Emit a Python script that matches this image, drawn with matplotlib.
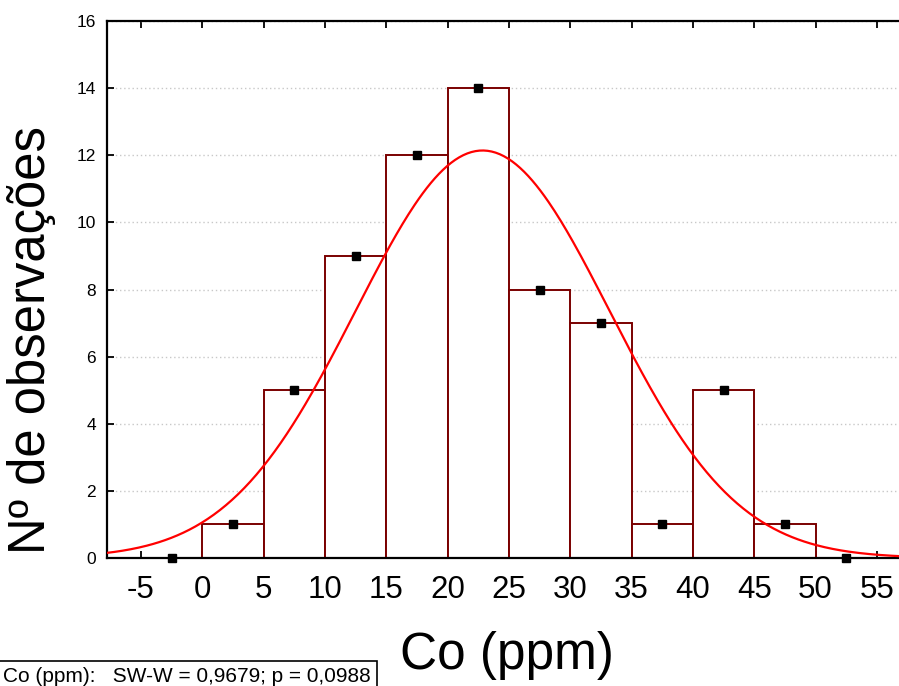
import numpy as np
import matplotlib
matplotlib.use("Agg")
from matplotlib import pyplot as plt

plt.rcParams['font.family'] = ['Liberation Sans', 'DejaVu Sans']
plt.rcParams['axes.unicode_minus'] = False

# histogram of Co (ppm), bin width 5
bin_left = [-5, 0, 5, 10, 15, 20, 25, 30, 35, 40, 45, 50]
counts = [0, 1, 5, 9, 12, 14, 8, 7, 1, 5, 1, 0]
bin_width = 5
# fitted normal curve parameters
fit_mean = 22.85
fit_sd = 10.35
n_obs = sum(counts)

x_ticks = [-5, 0, 5, 10, 15, 20, 25, 30, 35, 40, 45, 50, 55]
y_ticks = [0, 2, 4, 6, 8, 10, 12, 14, 16]

fig = plt.figure(figsize=(8.99, 6.86), dpi=100)
ax = fig.add_axes([107/899, 1 - 558/686, 1 - 107/899, (558 - 21)/686])

ax.bar(bin_left, counts, width=bin_width, align='edge', facecolor='white',
       edgecolor='#7a0000', linewidth=1.4, zorder=2)
centers = np.array(bin_left) + bin_width / 2
ax.plot(centers, counts, 's', color='black', markersize=6, zorder=4, clip_on=False)

xs = np.linspace(-8, 58, 400)
ys = n_obs * bin_width / (fit_sd * np.sqrt(2 * np.pi)) * np.exp(-0.5 * ((xs - fit_mean) / fit_sd) ** 2)
ax.plot(xs, ys, color='#ff0000', linewidth=1.6, zorder=3)

ax.set_xlim(-7.77, 56.8)
ax.set_ylim(0, 16)
ax.set_xticks(x_ticks)
ax.set_yticks(y_ticks)
ax.tick_params(axis='x', direction='in', top=True, length=5, width=1.3,
               labelsize=22.5, pad=12)
ax.tick_params(axis='y', direction='in', length=5, width=1.3, labelsize=12.5, pad=8)
ax.yaxis.grid(True, linestyle=(0, (1, 2)), color='#c8c8c8', linewidth=1.0, zorder=0)
ax.set_axisbelow(True)
for s in ['left', 'top', 'bottom']:
    ax.spines[s].set_linewidth(1.6)
ax.spines['right'].set_visible(False)

fig.text(32/899, 1 - 340/686, 'Nº de observações', rotation=90, fontsize=36.5,
         ha='center', va='center')
fig.text(507/899, 1 - 655/686, 'Co (ppm)', fontsize=37, ha='center', va='center')
fig.text(3/899, 1 - 677/686, 'Co (ppm):   SW-W = 0,9679; p = 0,0988', fontsize=15,
         ha='left', va='center',
         bbox=dict(boxstyle='square,pad=0.3', facecolor='white', edgecolor='black',
                   linewidth=1.2))

fig.savefig('out.png', dpi=100)
